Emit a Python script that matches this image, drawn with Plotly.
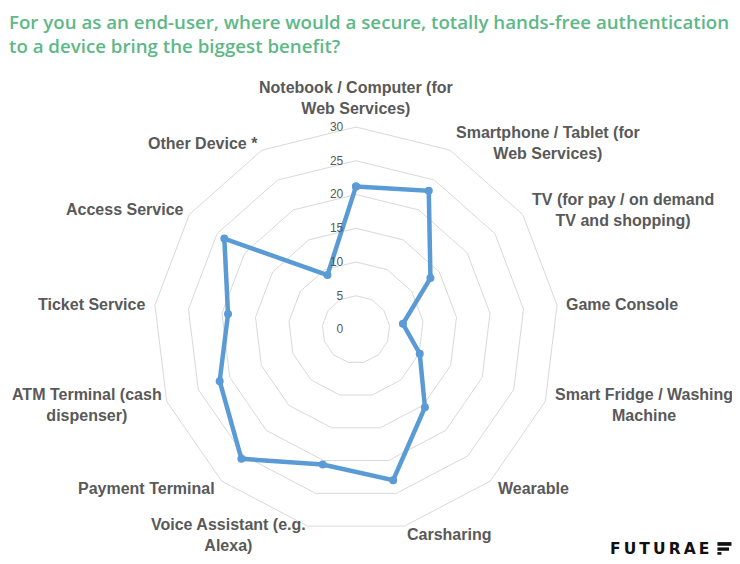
import plotly.graph_objects as go

categories = [
    "Notebook / Computer (for<br>Web Services)",
    "Smartphone / Tablet (for<br>Web Services)",
    "TV (for pay / on demand<br>TV and shopping)",
    "Game Console",
    "Smart Fridge / Washing<br>Machine",
    "Wearable",
    "Carsharing",
    "Voice Assistant (e.g.<br>Alexa)",
    "Payment Terminal",
    "ATM Terminal (cash<br>dispenser)",
    "Ticket Service",
    "Access Service",
    "Other Device *",
]
values = [21.2, 23.2, 13.4, 7.0, 10.1, 15.4, 23.0, 20.6, 25.6, 21.6, 19.1, 23.7, 9.1]
radial_ticks = [0, 5, 10, 15, 20, 25, 30]

# label block centres (window pixels) for the category labels
label_pos = [
    (356, 98), (548, 143), (622, 210), (621, 304), (643, 405), (533, 488), (449, 534),
    (229, 535), (147, 488), (88, 405), (92, 304), (125, 209), (203, 143),
]

title_text = ("For you as an end-user, where would a secure, totally hands-free authentication"
              "<br>to a device bring the biggest benefit?")

OFF = 8  # page body margin
W, H = 740 - OFF, 564 - OFF
ML, MR, MT, MB = 145.4, 181.4, 118.7, 32.1
PW, PH = W - ML - MR, H - MT - MB


def px(x):
    return (x - OFF - ML) / PW


def py(y):
    return (H - MB - (y - OFF)) / PH


fig = go.Figure()
fig.add_trace(go.Scatterpolar(
    r=values + values[:1],
    theta=categories + categories[:1],
    mode="lines+markers",
    line=dict(color="#5B9BD5", width=4.5),
    marker=dict(color="#5B9BD5", size=8),
    showlegend=False,
    hoverinfo="r+theta",
))

annotations = [
    dict(text=title_text, xref="paper", yref="paper", x=px(8), y=py(7),
         xanchor="left", yanchor="top", showarrow=False, align="left",
         font=dict(family="Open Sans", size=18.7, color="#5DB887", weight=600)),
    dict(text="F\u2009U\u2009T\u2009U\u2009R\u2009A\u2009E", xref="paper", yref="paper",
         x=px(710), y=py(548.5),
         xanchor="right", yanchor="middle", showarrow=False,
         font=dict(family="DejaVu Sans", size=15.5, color="#111111", weight="bold")),
]
for cat, (lx, ly) in zip(categories, label_pos):
    annotations.append(dict(
        text=cat, xref="paper", yref="paper", x=px(lx), y=py(ly),
        xanchor="center", yanchor="middle", showarrow=False, align="center",
        font=dict(family="Liberation Sans, Arial", size=16, color="#595959", weight="bold"),
    ))

shapes = []
for (x0, y0, x1, y1) in [(716.7, 542, 730.7, 545.7), (716.7, 547.3, 728.3, 550.7), (716.7, 552, 720.7, 554.7)]:
    shapes.append(dict(type="rect", xref="paper", yref="paper",
                       x0=px(x0), x1=px(x1), y0=py(y1), y1=py(y0),
                       fillcolor="#111111", line=dict(width=0)))

fig.update_layout(
    width=W, height=H,
    margin=dict(l=ML, r=MR, t=MT, b=MB),
    paper_bgcolor="white",
    plot_bgcolor="white",
    polar=dict(
        bgcolor="white",
        gridshape="linear",
        radialaxis=dict(
            range=[0, 30], tickvals=radial_ticks, showline=False,
            gridcolor="#D9D9D9", gridwidth=1,
            ticks="outside", ticklen=8, tickcolor="rgba(0,0,0,0)",
            side="counterclockwise",
            tickfont=dict(family="Liberation Sans, Arial", size=12, color="#595959"),
            angle=90, tickangle=90,
        ),
        angularaxis=dict(
            direction="clockwise", rotation=90,
            showgrid=False, showline=True, linecolor="#D9D9D9", linewidth=1,
            ticks="", showticklabels=False,
        ),
    ),
    annotations=annotations,
    shapes=shapes,
)

fig.write_html("out.html")
